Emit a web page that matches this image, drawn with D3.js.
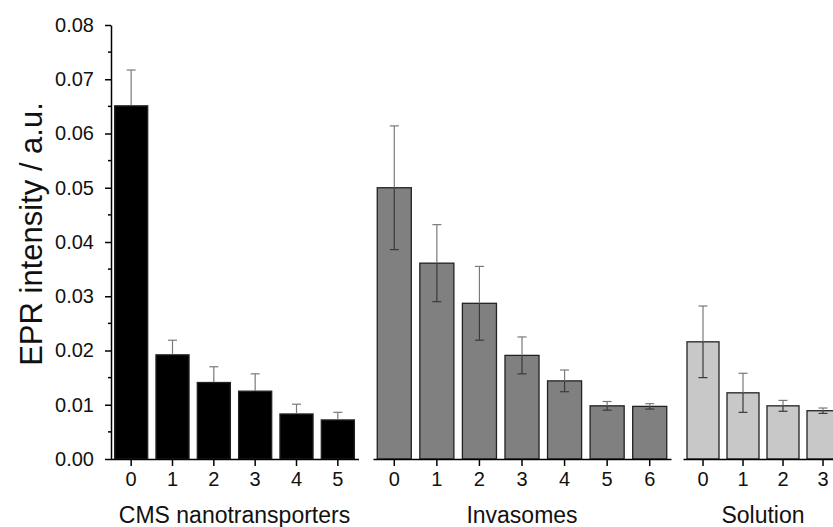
<!DOCTYPE html>
<html>
<head>
<meta charset="utf-8">
<style>
html, body {
  margin: 0;
  background: #fff;
  overflow: hidden;
}
text {
  font-family: "Liberation Sans", Arial, sans-serif;
  fill: #111;
}
.axis path, .axis line {
  stroke: #000;
  stroke-width: 1.5px;
}
.bar {
  stroke: #222;
  stroke-width: 1.3px;
}
</style>
<script src="https://d3js.org/d3.v7.min.js"></script>
</head>
<body>
<svg id="chart" width="833" height="527"></svg>
<script>
// values
var groupNames = ["CMS nanotransporters", "Invasomes", "Solution"];

var cmsLabels = ["0", "1", "2", "3", "4", "5"];
var cmsMean = [0.0651, 0.0192, 0.0141, 0.0125, 0.0083, 0.0072];
var cmsErr  = [0.0066, 0.0027, 0.0029, 0.0032, 0.0018, 0.0014];

var invLabels = ["0", "1", "2", "3", "4", "5", "6"];
var invMean = [0.0500, 0.0361, 0.0287, 0.0191, 0.0144, 0.0098, 0.0097];
var invErr  = [0.0114, 0.0071, 0.0068, 0.0034, 0.0020, 0.0008, 0.0005];

var solLabels = ["0", "1", "2", "3"];
var solMean = [0.0216, 0.0122, 0.0098, 0.0089];
var solErr  = [0.0066, 0.0036, 0.0010, 0.0005];

var yTicks = [0, 0.01, 0.02, 0.03, 0.04, 0.05, 0.06, 0.07, 0.08];

var svg = d3.select("#chart");

var y = d3.scaleLinear().domain([0, 0.08]).range([459, 25]);

// each group gets its own little x axis
var panels = [
  { name: groupNames[0], labels: cmsLabels, mean: cmsMean, err: cmsErr, range: [110.5, 358.5], fill: "#000000" },
  { name: groupNames[1], labels: invLabels, mean: invMean, err: invErr, range: [373, 671], fill: "#808080" },
  { name: groupNames[2], labels: solLabels, mean: solMean, err: solErr, range: [683, 843], fill: "#c8c8c8" }
];

panels.forEach(function(p) {
  var x = d3.scaleBand()
      .domain(p.labels)
      .range(p.range)
      .paddingInner(0.2)
      .paddingOuter(0.1);

  var rows = p.labels.map(function(l, i) {
    return { label: l, mean: p.mean[i], err: p.err[i] };
  });

  var g = svg.append("g");

  g.selectAll("rect")
    .data(rows)
    .enter().append("rect")
      .attr("class", "bar")
      .attr("x", d => x(d.label))
      .attr("y", d => y(d.mean))
      .attr("width", x.bandwidth())
      .attr("height", d => y(0) - y(d.mean))
      .attr("fill", p.fill);

  var eb = g.selectAll("g.err")
    .data(rows)
    .enter().append("g")
      .attr("class", "err")
      .attr("transform", d => "translate(" + (x(d.label) + x.bandwidth() / 2) + ",0)");

  // upper whisker (on white) and lower whisker (inside the bar)
  eb.append("line")
      .attr("y1", d => y(d.mean))
      .attr("y2", d => y(d.mean + d.err))
      .attr("stroke", "#7a7a7a")
      .attr("stroke-width", 1.2);
  eb.append("line")
      .attr("x1", -4.5).attr("x2", 4.5)
      .attr("y1", d => y(d.mean + d.err))
      .attr("y2", d => y(d.mean + d.err))
      .attr("stroke", "#7a7a7a")
      .attr("stroke-width", 1.2);
  eb.append("line")
      .attr("y1", d => y(d.mean))
      .attr("y2", d => y(d.mean - d.err))
      .attr("stroke", p.fill === "#000000" ? "#000" : "#3a3a3a")
      .attr("stroke-width", 1.2);
  eb.append("line")
      .attr("x1", -4.5).attr("x2", 4.5)
      .attr("y1", d => y(d.mean - d.err))
      .attr("y2", d => y(d.mean - d.err))
      .attr("stroke", p.fill === "#000000" ? "#000" : "#3a3a3a")
      .attr("stroke-width", 1.2);

  var ax = g.append("g")
      .attr("class", "axis")
      .attr("transform", "translate(0," + y(0) + ")")
      .call(d3.axisBottom(x).tickSize(7).tickSizeOuter(0).tickPadding(6));
  ax.selectAll("text")
      .attr("font-size", "20px")
      .attr("fill", "#111");

  g.append("text")
      .attr("x", (p.range[0] + Math.min(p.range[1], 848)) / 2)
      .attr("y", 523)
      .attr("text-anchor", "middle")
      .attr("font-size", "23px")
      .text(p.name);
});

// y axis with minor ticks
var yAxis = svg.append("g")
    .attr("class", "axis")
    .attr("transform", "translate(111,0)")
    .call(d3.axisLeft(y).tickValues(yTicks).tickFormat(d3.format(".2f"))
          .tickSize(6).tickSizeOuter(0).tickPadding(11));
yAxis.selectAll("text").attr("font-size", "20px").attr("fill", "#111");

var minor = d3.range(0.005, 0.08, 0.01);
yAxis.selectAll("line.minor")
  .data(minor)
  .enter().append("line")
    .attr("class", "minor")
    .attr("x1", -3).attr("x2", 0)
    .attr("y1", d => y(d)).attr("y2", d => y(d));

svg.append("text")
    .attr("transform", "translate(42," + ((y(0) + y(0.08)) / 2 - 8) + ") rotate(-90)")
    .attr("text-anchor", "middle")
    .attr("font-size", "31px")
    .text("EPR intensity / a.u.");
</script>
</body>
</html>
